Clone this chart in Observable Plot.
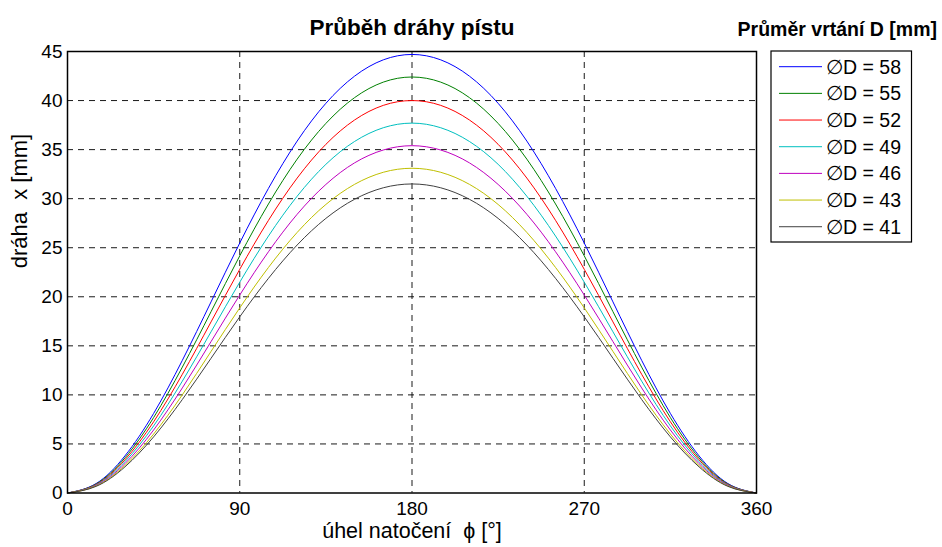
<!DOCTYPE html>
<html>
<head>
<meta charset="utf-8">
<script src="https://cdn.jsdelivr.net/npm/d3@7"></script>
<script src="https://cdn.jsdelivr.net/npm/@observablehq/plot@0.6"></script>
<style>
  html, body { margin: 0; padding: 0; background: #fff; }
  #wrap { position: relative; width: 942px; height: 547px; font-family: "Liberation Sans", Arial, sans-serif; }
  #legend { position: absolute; left: 0; top: 0; pointer-events: none; }
</style>
</head>
<body>
<div id="wrap"></div>
<script>
// crank angle [deg]
const angles = [0, 15, 30, 45, 60, 75, 90, 105, 120, 135, 150, 165, 180,
                195, 210, 225, 240, 255, 270, 285, 300, 315, 330, 345, 360];
// piston displacement x [mm], one series per bore diameter
const d58 = [0, 0.97, 3.78, 8.11, 13.52, 19.48, 25.48, 31.05, 35.87, 39.72, 42.49, 44.15, 44.7,
             44.15, 42.49, 39.72, 35.87, 31.05, 25.48, 19.48, 13.52, 8.11, 3.78, 0.97, 0];
const d55 = [0, 0.92, 3.58, 7.69, 12.83, 18.48, 24.17, 29.46, 34.03, 37.67, 40.30, 41.88, 42.4,
             41.88, 40.30, 37.67, 34.03, 29.46, 24.17, 18.48, 12.83, 7.69, 3.58, 0.92, 0];
const d52 = [0, 0.87, 3.38, 7.26, 12.10, 17.44, 22.80, 27.79, 32.10, 35.54, 38.02, 39.51, 40.0,
             39.51, 38.02, 35.54, 32.10, 27.79, 22.80, 17.44, 12.10, 7.26, 3.38, 0.87, 0];
const d49 = [0, 0.82, 3.19, 6.84, 11.40, 16.43, 21.49, 26.19, 30.25, 33.50, 35.83, 37.23, 37.7,
             37.23, 35.83, 33.50, 30.25, 26.19, 21.49, 16.43, 11.40, 6.84, 3.19, 0.82, 0];
const d46 = [0, 0.77, 2.99, 6.42, 10.71, 15.43, 20.18, 24.59, 28.41, 31.45, 33.65, 34.96, 35.4,
             34.96, 33.65, 31.45, 28.41, 24.59, 20.18, 15.43, 10.71, 6.42, 2.99, 0.77, 0];
const d43 = [0, 0.72, 2.80, 6.01, 10.01, 14.43, 18.87, 22.99, 26.56, 29.41, 31.46, 32.69, 33.1,
             32.69, 31.46, 29.41, 26.56, 22.99, 18.87, 14.43, 10.01, 6.01, 2.80, 0.72, 0];
const d41 = [0, 0.68, 2.66, 5.72, 9.53, 13.73, 17.96, 21.88, 25.28, 27.99, 29.94, 31.11, 31.5,
             31.11, 29.94, 27.99, 25.28, 21.88, 17.96, 13.73, 9.53, 5.72, 2.66, 0.68, 0];

const seriesNames = ["∅D = 58", "∅D = 55", "∅D = 52", "∅D = 49", "∅D = 46", "∅D = 43", "∅D = 41"];
const seriesValues = [d58, d55, d52, d49, d46, d43, d41];
const seriesColors = ["#0000ff", "#008000", "#ff0000", "#00bfbf", "#bf00bf", "#bfbf00", "#404040"];

const xTicks = [0, 90, 180, 270, 360];
const yTicks = [0, 5, 10, 15, 20, 25, 30, 35, 40, 45];

const titleText = "Průběh dráhy pístu";
const xLabel = "úhel natočení  ϕ [°]";
const yLabel = "dráha  x [mm]";
const legendTitle = "Průměr vrtání D [mm]";

const rows = [];
seriesNames.forEach((name, i) => {
  angles.forEach((a, j) => rows.push({series: name, phi: a, x: seriesValues[i][j]}));
});

const font = "'Liberation Sans', Arial, Helvetica, sans-serif";

const plot = Plot.plot({
  width: 942,
  height: 547,
  marginLeft: 67,
  marginTop: 51,
  marginRight: 186,
  marginBottom: 54.5,
  style: {fontFamily: font, fontSize: "19px", color: "#000", background: "#fff"},
  x: {domain: [0, 360]},
  y: {domain: [0, 45]},
  color: {domain: seriesNames, range: seriesColors},
  marks: [
    Plot.gridX([90, 180, 270], {stroke: "#000", strokeOpacity: 0.9, strokeDasharray: "6,5", strokeWidth: 1}),
    Plot.gridY([5, 10, 15, 20, 25, 30, 35, 40], {stroke: "#000", strokeOpacity: 0.9, strokeDasharray: "6,5", strokeWidth: 1}),
    Plot.line(rows, {x: "phi", y: "x", z: "series", stroke: "series", strokeWidth: 1, curve: "natural"}),
    Plot.frame({stroke: "#000", strokeWidth: 1.5}),
    Plot.axisX(xTicks, {tickSize: 0, tickPadding: 8.5, label: null, fontSize: 19}),
    Plot.axisY(yTicks, {tickSize: 0, tickPadding: 5, label: null, fontSize: 19}),
    Plot.text([titleText], {frameAnchor: "top", lineAnchor: "middle", dy: -24, fontSize: 22.5, fontWeight: "bold", fill: "#000"}),
    Plot.text([xLabel], {frameAnchor: "bottom", lineAnchor: "middle", dy: 38, fontSize: 21.5, fill: "#000"}),
    Plot.text([yLabel], {frameAnchor: "left", lineAnchor: "middle", dx: -48, dy: -4, rotate: -90, fontSize: 22, fill: "#000"})
  ]
});

const wrap = document.getElementById("wrap");
wrap.appendChild(plot);

// legend (drawn as overlay SVG)
const leg = d3.create("svg").attr("id", "legend").attr("width", 942).attr("height", 547)
  .style("font-family", font);
leg.append("text").attr("x", 937).attr("y", 36).attr("text-anchor", "end")
  .attr("font-size", 19.5).attr("font-weight", "bold").attr("fill", "#000").text(legendTitle);
leg.append("rect").attr("x", 771).attr("y", 51).attr("width", 140.5).attr("height", 191)
  .attr("fill", "#fff").attr("stroke", "#000").attr("stroke-width", 1.2);
seriesNames.forEach((name, i) => {
  const cy = 66.7 + i * 26.67;
  leg.append("line").attr("x1", 779).attr("x2", 822).attr("y1", cy).attr("y2", cy)
    .attr("stroke", seriesColors[i]).attr("stroke-width", 1);
  leg.append("text").attr("x", 826).attr("y", cy + 7).attr("font-size", 19.5).attr("fill", "#000").text(name);
});
wrap.appendChild(leg.node());
</script>
</body>
</html>
